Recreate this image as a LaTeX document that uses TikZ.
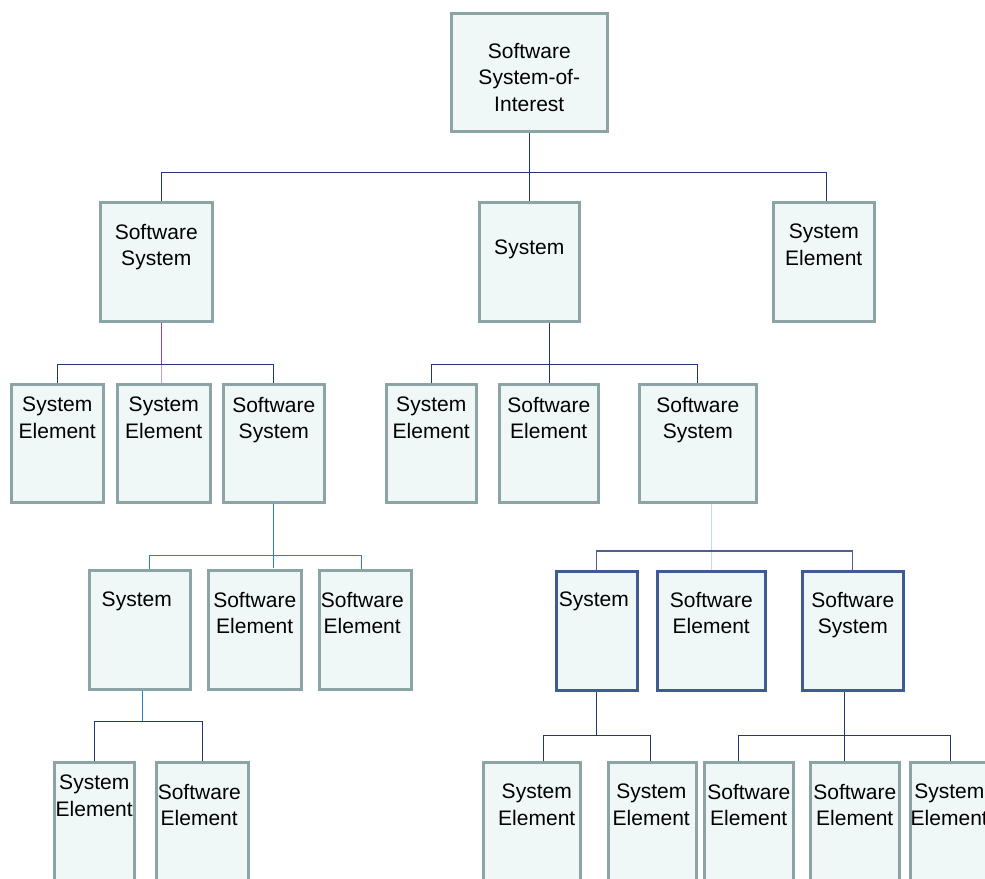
\documentclass[tikz,border=0pt]{standalone}
\usepackage{fontspec}
\setmainfont{Liberation Sans}
\usetikzlibrary{positioning}
\definecolor{boxline}{RGB}{140,164,166}
\definecolor{boxfill}{RGB}{240,248,247}
\definecolor{darkline}{RGB}{62,92,145}
\definecolor{wire}{RGB}{35,55,120}
\definecolor{wirepurple}{RGB}{135,70,175}
\definecolor{wireblue}{RGB}{35,130,205}
\definecolor{wirelight}{RGB}{195,222,226}

\begin{document}
\begin{tikzpicture}[x=1pt, y=-1pt,
    box/.style={rectangle, draw=boxline, fill=boxfill, line width=2.5pt, inner sep=0pt, anchor=north west},
    darkbox/.style={box, draw=darkline},
    lbl/.style={align=center, inner sep=0pt, font=\fontsize{21}{26.5}\selectfont},
    conn/.style={draw=wire, line width=1.3pt}]
        \path[fill=white, use as bounding box] (0,0) rectangle (985,878);
        \clip (0,0) rectangle (985,878);

        % Boxes
        \node (root) [box, minimum width=156, minimum height=118] at (450,12) {};
        \node (ss1) [box, minimum width=112, minimum height=119] at (99,201) {};
        \node (sys2) [box, minimum width=100, minimum height=119] at (478,201) {};
        \node (se3) [box, minimum width=101, minimum height=119] at (772,201) {};

        \node (se4) [box, minimum width=92, minimum height=118] at (10,383) {};
        \node (se5) [box, minimum width=93, minimum height=118] at (116,383) {};
        \node (ss6) [box, minimum width=101, minimum height=118] at (222,383) {};
        \node (se7) [box, minimum width=90, minimum height=118] at (385,383) {};
        \node (swe8) [box, minimum width=99, minimum height=118] at (498,383) {};
        \node (ss9) [box, minimum width=117, minimum height=118] at (638,383) {};

        \node (sys10) [box, minimum width=101, minimum height=119] at (88,569) {};
        \node (swe11) [box, minimum width=93, minimum height=119] at (207,569) {};
        \node (swe12) [box, minimum width=92, minimum height=119] at (318,569) {};
        \node (sys13) [darkbox, minimum width=81, minimum height=119] at (555,570) {};
        \node (swe14) [darkbox, minimum width=108, minimum height=119] at (656,570) {};
        \node (ss15) [darkbox, minimum width=101, minimum height=119] at (801,570) {};

        \node (se16) [box, minimum width=80, minimum height=140] at (53,761) {};
        \node (swe17) [box, minimum width=92, minimum height=140] at (155,761) {};
        \node (se18) [box, minimum width=97, minimum height=140] at (482,761) {};
        \node (se19) [box, minimum width=88, minimum height=140] at (607,761) {};
        \node (swe20) [box, minimum width=89, minimum height=140] at (703,761) {};
        \node (swe21) [box, minimum width=89, minimum height=140] at (809,761) {};
        \node (se22) [box, minimum width=80, minimum height=140] at (909,761) {};

        % Labels
        \node (root-t) [lbl, below=31pt of root.north] {Software\\System-of-\\Interest};
        \node (ss1-t) [lbl, below=23pt of ss1.north] {Software\\System};
        \node (sys2-t) [lbl, below=39pt of sys2.north] {System};
        \node (se3-t) [lbl, below=23pt of se3.north] {System\\Element};

        \node (se4-t) [lbl, below=14pt of se4.north] {System\\Element};
        \node (se5-t) [lbl, below=14pt of se5.north] {System\\Element};
        \node (ss6-t) [lbl, below=14pt of ss6.north] {Software\\System};
        \node (se7-t) [lbl, below=14pt of se7.north] {System\\Element};
        \node (swe8-t) [lbl, below=14pt of swe8.north] {Software\\Element};
        \node (ss9-t) [lbl, below=14pt of ss9.north] {Software\\System};

        \node (sys10-t) [lbl, below=23pt of sys10.north, xshift=-3pt] {System};
        \node (swe11-t) [lbl, below=23pt of swe11.north] {Software\\Element};
        \node (swe12-t) [lbl, below=23pt of swe12.north, xshift=-3pt] {Software\\Element};
        \node (sys13-t) [lbl, below=22pt of sys13.north, xshift=-3pt] {System};
        \node (swe14-t) [lbl, below=22pt of swe14.north] {Software\\Element};
        \node (ss15-t) [lbl, below=22pt of ss15.north] {Software\\System};

        \node (se16-t) [lbl, below=14pt of se16.north] {System\\Element};
        \node (swe17-t) [lbl, below=23pt of swe17.north, xshift=-3pt] {Software\\Element};
        \node (se18-t) [lbl, below=23pt of se18.north, xshift=5pt] {System\\Element};
        \node (se19-t) [lbl, below=23pt of se19.north, xshift=-1pt] {System\\Element};
        \node (swe20-t) [lbl, below=23pt of swe20.north] {Software\\Element};
        \node (swe21-t) [lbl, below=23pt of swe21.north] {Software\\Element};
        \node (se22-t) [lbl, below=23pt of se22.north, xshift=-1pt] {System\\Element};

        % Connectors
        \draw[conn] (root.south) -- ++(0,40) coordinate (b1);
        \draw[conn] ([xshift=5pt]ss1.north) |- (b1) -| ([xshift=3pt]se3.north);
        \draw[conn] (b1) -- (sys2.north);

        \draw[conn, draw=wirepurple] ([xshift=5pt]ss1.south) -- ++(0,42) coordinate (b2);
        \draw[conn, draw=wirepurple!50] (b2) -- (b2 |- se5.north);
        \draw[conn] (se4.north) |- (b2) -| (ss6.north);

        \draw[conn] ([xshift=20pt]sys2.south) -- ++(0,42) coordinate (b3);
        \draw[conn] (se7.north) |- (b3) -| (ss9.north);
        \draw[conn] (b3) -- (b3 |- swe8.north);

        \draw[conn, draw=wireblue] (ss6.south) -- ++(0,52) coordinate (b4);
        \draw[conn, draw=wireblue] ([xshift=10pt]sys10.north) |- (b4) -| ([xshift=-4pt]swe12.north);
        \draw[conn, draw=wireblue] (b4) -- ++(0,12);

        \draw[conn, draw=wirelight] (ss9.south -| swe14.north) -- (swe14.north);
        \path (swe14.north) ++(0,-19) coordinate (b5);
        \draw[conn, draw=wire!80] (sys13.north) |- (b5) -| (ss15.north);

        \draw[conn, draw=wireblue] ([xshift=3pt]sys10.south) -- ++(0,31) coordinate (b6);
        \draw[conn] (se16.north) |- (b6) -| (swe17.north);

        \draw[conn] (sys13.south) -- ++(0,44) coordinate (b7);
        \draw[conn] ([xshift=12pt]se18.north) |- (b7) -| ([xshift=-2pt]se19.north);

        \draw[conn] ([xshift=-8pt]ss15.south) -- ++(0,44) coordinate (b8);
        \draw[conn] (b8) -- (b8 |- swe21.north);
        \draw[conn] ([xshift=-10pt]swe20.north) |- (b8) -| (se22.north);
\end{tikzpicture}
\end{document}
